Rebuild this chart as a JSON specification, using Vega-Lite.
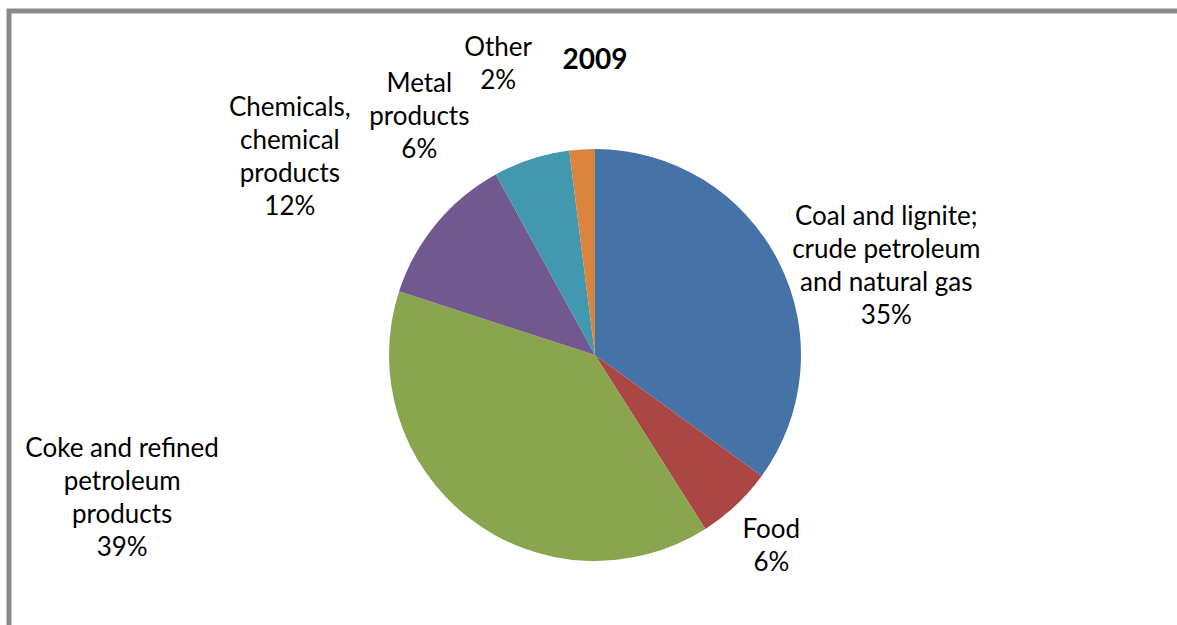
{
  "$schema": "https://vega.github.io/schema/vega-lite/v6.json",
  "autosize": {"type": "none"},
  "width": 1172,
  "height": 688,
  "padding": {"left": 9, "top": 11, "right": -4, "bottom": -74},
  "background": "white",
  "view": {"stroke": "#8a8a8a", "strokeWidth": 5},
  "title": {"text": "2009", "anchor": "middle", "frame": "group", "font": "Lato", "fontSize": 28, "fontWeight": "bold", "color": "black", "baseline": "alphabetic", "offset": -58, "dy": 28},
  "config": {"view": {"stroke": "#8a8a8a", "strokeWidth": 5}, "font": "Lato"},
  "data": {"values": [
    {"category": "Coal and lignite; crude petroleum and natural gas", "share": 35, "rank": 1, "label": "Coal and lignite;|crude petroleum|and natural gas"},
    {"category": "Food", "share": 6, "rank": 2, "label": "Food"},
    {"category": "Coke and refined petroleum products", "share": 39, "rank": 3, "label": "Coke and refined|petroleum|products"},
    {"category": "Chemicals, chemical products", "share": 12, "rank": 4, "label": "Chemicals,|chemical|products"},
    {"category": "Metal products", "share": 6, "rank": 5, "label": "Metal|products"},
    {"category": "Other", "share": 2, "rank": 6, "label": "Other"}
  ]},
  "transform": [
    {"stack": "share", "groupby": [], "sort": [{"field": "rank", "order": "ascending"}], "as": ["s0", "s1"]},
    {"calculate": "(datum.s0 + datum.s1) / 2", "as": "mid"},
    {"calculate": "split(datum.label + '|' + datum.share + '%', '|')", "as": "lines"}
  ],
  "layer": [
    {
      "mark": {"type": "arc", "outerRadius": 206},
      "encoding": {
        "theta": {"field": "s0", "type": "quantitative", "scale": {"domain": [0, 100]}},
        "theta2": {"field": "s1"},
        "color": {
          "field": "category", "type": "nominal", "legend": null,
          "scale": {
            "domain": ["Coal and lignite; crude petroleum and natural gas", "Food", "Coke and refined petroleum products", "Chemicals, chemical products", "Metal products", "Other"],
            "range": ["#4572A7", "#AA4643", "#89A54E", "#71588F", "#4198AF", "#DB843D"]
          }
        }
      }
    },
    {
      "transform": [{"filter": "datum.rank == 1"}],
      "mark": {"type": "text", "radius": 300, "dx": 24, "dy": -1.5, "fontSize": 26, "lineHeight": 33, "align": "center", "baseline": "middle", "font": "Lato", "color": "black"},
      "encoding": {"theta": {"field": "mid", "type": "quantitative", "scale": {"domain": [0, 100]}}, "text": {"field": "lines"}}
    },
    {
      "transform": [{"filter": "datum.rank == 2"}],
      "mark": {"type": "text", "radius": 300, "dx": -29, "dy": -43.5, "fontSize": 26, "lineHeight": 33, "align": "center", "baseline": "middle", "font": "Lato", "color": "black"},
      "encoding": {"theta": {"field": "mid", "type": "quantitative", "scale": {"domain": [0, 100]}}, "text": {"field": "lines"}}
    },
    {
      "transform": [{"filter": "datum.rank == 3"}],
      "mark": {"type": "text", "radius": 300, "dx": -289, "dy": -143.5, "fontSize": 26, "lineHeight": 33, "align": "center", "baseline": "middle", "font": "Lato", "color": "black"},
      "encoding": {"theta": {"field": "mid", "type": "quantitative", "scale": {"domain": [0, 100]}}, "text": {"field": "lines"}}
    },
    {
      "transform": [{"filter": "datum.rank == 4"}],
      "mark": {"type": "text", "radius": 300, "dx": -74, "dy": -55.5, "fontSize": 26, "lineHeight": 33, "align": "center", "baseline": "middle", "font": "Lato", "color": "black"},
      "encoding": {"theta": {"field": "mid", "type": "quantitative", "scale": {"domain": [0, 100]}}, "text": {"field": "lines"}}
    },
    {
      "transform": [{"filter": "datum.rank == 5"}],
      "mark": {"type": "text", "radius": 300, "dx": -83, "dy": 14, "fontSize": 26, "lineHeight": 33, "align": "center", "baseline": "middle", "font": "Lato", "color": "black"},
      "encoding": {"theta": {"field": "mid", "type": "quantitative", "scale": {"domain": [0, 100]}}, "text": {"field": "lines"}}
    },
    {
      "transform": [{"filter": "datum.rank == 6"}],
      "mark": {"type": "text", "radius": 300, "dx": -78, "dy": -7.5, "fontSize": 26, "lineHeight": 33, "align": "center", "baseline": "middle", "font": "Lato", "color": "black"},
      "encoding": {"theta": {"field": "mid", "type": "quantitative", "scale": {"domain": [0, 100]}}, "text": {"field": "lines"}}
    }
  ]
}
